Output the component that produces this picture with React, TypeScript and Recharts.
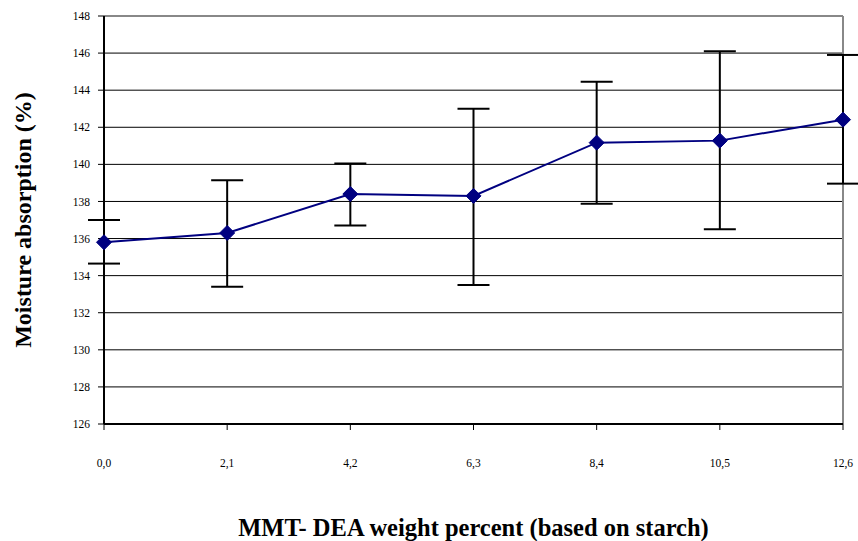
import React from "react";
import { LineChart, Line, XAxis, YAxis, CartesianGrid, ErrorBar, ReferenceLine } from "recharts";

const xValues = [0, 2.1, 4.2, 6.3, 8.4, 10.5, 12.6];
const meanValues = [135.8, 136.3, 138.4, 138.3, 141.17, 141.28, 142.41];
const lowerValues = [134.65, 133.4, 136.7, 133.5, 137.88, 136.5, 138.96];
const upperValues = [137.0, 139.15, 140.05, 143.0, 144.46, 146.1, 145.9];
const yTicks = [126, 128, 130, 132, 134, 136, 138, 140, 142, 144, 146, 148];

const data = xValues.map((x, i) => ({
  x,
  y: meanValues[i],
  err: [meanValues[i] - lowerValues[i], upperValues[i] - meanValues[i]],
}));

const serif = "'Liberation Serif', 'Times New Roman', serif";

const Diamond = (props: any) => {
  const { cx, cy } = props;
  if (cx == null || cy == null) return null;
  const r = 7.5;
  return (
    <path
      d={`M${cx},${cy - r}L${cx + r},${cy}L${cx},${cy + r}L${cx - r},${cy}Z`}
      fill="#000080"
      stroke="#000080"
    />
  );
};

export default function App() {
  return (
    <div style={{ position: "absolute", left: 0, top: 0, width: 858, height: 541, background: "#fff" }}>
      <LineChart
        width={858}
        height={541}
        data={data}
        margin={{ top: 16, right: 15, left: 0, bottom: 0 }}
      >
        <CartesianGrid vertical={false} stroke="#000" strokeWidth={1} horizontalValues={yTicks} />
        <ReferenceLine y={148} stroke="#888" strokeWidth={2} />
        <ReferenceLine x={12.6} stroke="#888" strokeWidth={2} />
        <XAxis
          dataKey="x"
          type="number"
          domain={[0, 12.6]}
          ticks={xValues}
          tickFormatter={(v: number) => v.toFixed(1).replace(".", ",")}
          interval={0}
          height={117}
          tickSize={6}
          tickMargin={29}
          stroke="#000"
          axisLine={{ stroke: "#000", strokeWidth: 2 }}
          tick={{ fill: "#000", fontSize: 11.5, fontFamily: serif }}
          label={{
            value: "MMT- DEA weight percent (based on starch)",
            position: "insideBottom",
            offset: 5,
            style: { fill: "#000", fontSize: 24.5, fontWeight: "bold", fontFamily: serif },
          }}
        />
        <YAxis
          type="number"
          domain={[126, 148]}
          ticks={yTicks}
          interval={0}
          width={104}
          tickSize={6}
          tickMargin={8}
          stroke="#000"
          axisLine={{ stroke: "#000", strokeWidth: 2 }}
          tick={{ fill: "#000", fontSize: 11.5, fontFamily: serif }}
          label={{
            value: "Moisture absorption (%)",
            angle: -90,
            position: "insideLeft",
            offset: 22,
            style: { textAnchor: "middle", fill: "#000", fontSize: 24, fontWeight: "bold", fontFamily: serif },
          }}
        />
        <Line
          type="linear"
          dataKey="y"
          stroke="#000080"
          strokeWidth={2}
          dot={<Diamond />}
          activeDot={false}
          isAnimationActive={false}
        >
          <ErrorBar dataKey="err" width={16} stroke="#000" strokeWidth={2} direction="y" />
        </Line>
      </LineChart>
    </div>
  );
}
